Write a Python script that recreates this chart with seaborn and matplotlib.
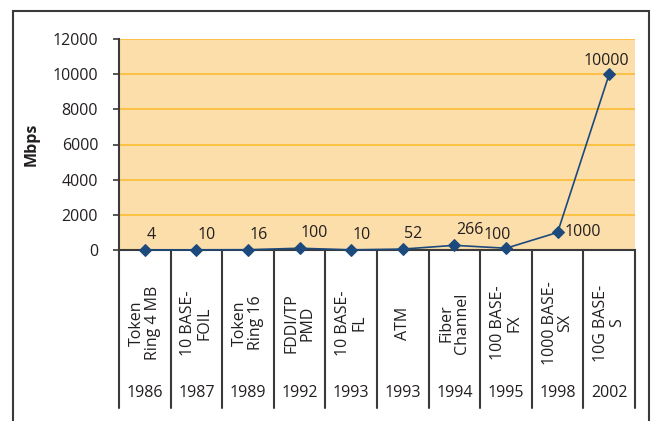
import numpy as np
import pandas as pd
import matplotlib
matplotlib.use("Agg")
import matplotlib.pyplot as plt
import matplotlib.transforms as mtransforms
from matplotlib.patches import Rectangle
import seaborn as sns

# chart data
technologies = ["Token\nRing 4 MB", "10 BASE-\nFOIL", "Token\nRing 16", "FDDI/TP\nPMD",
                "10 BASE-\nFL", "ATM", "Fiber\nChannel", "100 BASE-\nFX",
                "1000 BASE-\nSX", "10G BASE-\nS"]
years = ["1986", "1987", "1989", "1992", "1993", "1993", "1994", "1995", "1998", "2002"]
mbps = [4, 10, 16, 100, 10, 52, 266, 100, 1000, 10000]
y_ticks = [0, 2000, 4000, 6000, 8000, 10000, 12000]

df = pd.DataFrame({"pos": np.arange(len(mbps)), "Mbps": mbps})

sns.set_style("white")
plt.rcParams["font.family"] = ["Open Sans", "DejaVu Sans"]

text_col = "#231f20"
line_col = "#1c4a7c"
frame_col = "#3a3a3a"
fs = 11.5

fig = plt.figure(figsize=(6.55, 4.21), dpi=100)
ax = fig.add_axes([119 / 655, 1 - 250 / 421, (635 - 119) / 655, (250 - 39) / 421])
ax.set_facecolor("#fcdeaa")

sns.lineplot(data=df, x="pos", y="Mbps", ax=ax, color=line_col, linewidth=1.2,
             marker="D", markersize=6, markeredgecolor=line_col, zorder=5, clip_on=False)

ax.set_xlim(-0.5, len(mbps) - 0.5)
ax.set_ylim(0, 12000)
ax.set_yticks(y_ticks)
ax.set_yticklabels([str(t) for t in y_ticks], fontsize=fs, color=text_col)
ax.set_xticks([])
ax.set_xlabel("")
ax.set_ylabel("Mbps", fontsize=fs, fontweight="bold", color=text_col, labelpad=9)
ax.yaxis.grid(True, color="#fbbf3c", linewidth=1.3)
ax.set_axisbelow(True)
ax.tick_params(axis="y", left=True, length=4, width=1.2, color=frame_col, pad=11)

for s in ["top", "right"]:
    ax.spines[s].set_visible(False)
for s in ["left", "bottom"]:
    ax.spines[s].set_color(frame_col)
    ax.spines[s].set_linewidth(1.5)

# data labels
offsets = {7: (-6, 4, "center", "bottom"), 8: (5, 0, "left", "center"), 9: (-2, 4, "center", "bottom")}
for i, v in enumerate(mbps):
    dx, dy, ha, va = offsets.get(i, (1, 5, "left", "bottom"))
    ax.annotate(str(v), (i, v), xytext=(dx, dy), textcoords="offset points",
                ha=ha, va=va, fontsize=fs, color=text_col)

# category table below the axis
trans = mtransforms.blended_transform_factory(ax.transData, ax.transAxes)
table_bottom = -(408 - 250) / 211
for b in np.arange(len(mbps) + 1) - 0.5:
    ax.plot([b, b], [0, table_bottom], transform=trans, color=frame_col,
            linewidth=1.5, clip_on=False)
for i, (tech, yr) in enumerate(zip(technologies, years)):
    ax.text(i, -(323 - 250) / 211, tech, transform=trans, rotation=90,
            ha="center", va="center", multialignment="center",
            fontsize=fs, color=text_col, linespacing=1.0)
    ax.text(i, -(393 - 250) / 211, yr, transform=trans, ha="center", va="center",
            fontsize=fs, color=text_col)

# outer frame
fig.patches.append(Rectangle((13 / 655, -0.05), (649 - 13) / 655, 1.05 - 11 / 421,
                             transform=fig.transFigure, fill=False,
                             edgecolor=frame_col, linewidth=1.5))

fig.savefig("out.png", dpi=100)
